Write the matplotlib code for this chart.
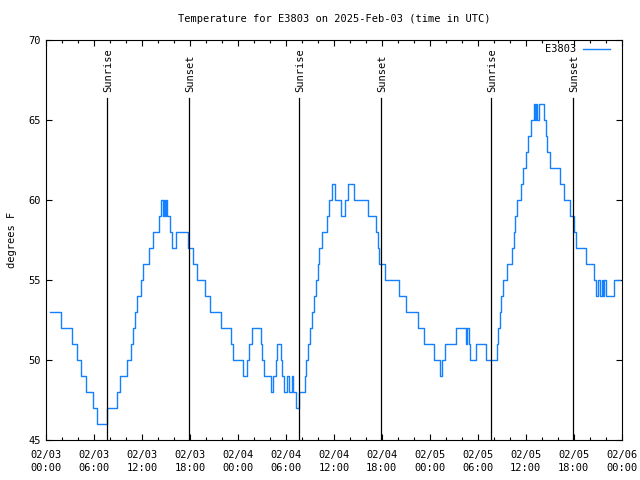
import matplotlib
matplotlib.use('Agg')
import matplotlib.pyplot as plt

# hours since 2025-02-03 00:00 UTC, temperature (F) starting at each hour
hours = [0.5, 1.88, 3.19, 3.88, 4.38, 5.0, 5.94, 6.38, 7.66, 8.88, 9.25, 10.13, 10.63,
         10.88, 11.13, 11.44, 11.88, 12.19, 12.88, 13.38, 14.13, 14.44, 14.59, 14.71,
         14.84, 14.96, 15.13, 15.46, 15.81, 16.21, 17.75, 18.44, 18.94, 19.94, 20.46,
         21.91, 23.13, 23.44, 24.66, 25.13, 25.38, 25.75, 26.84, 27.06, 27.25, 28.16,
         28.44, 28.75, 28.94, 29.41, 29.56, 29.75, 30.13, 30.44, 30.75, 30.94, 31.31,
         31.69, 32.34, 32.56, 32.81, 33.06, 33.31, 33.56, 33.75, 33.96, 34.19, 34.46,
         35.09, 35.38, 35.71, 36.13, 36.88, 37.38, 37.81, 38.46, 40.25, 41.31, 41.5,
         41.69, 42.4, 44.21, 45.06, 46.56, 47.31, 48.56, 49.31, 49.5, 49.88, 51.31,
         52.5, 52.63, 52.88, 53.06, 53.81, 55.06, 56.44, 56.56, 56.75, 56.88, 57.13,
         57.63, 58.25, 58.5, 58.69, 58.94, 59.38, 59.69, 60.0, 60.31, 60.69, 61.0,
         61.16, 61.31, 61.44, 61.66, 62.29, 62.5, 62.69, 63.0, 64.25, 64.75, 65.5,
         66.06, 66.31, 67.5, 68.59, 68.75, 69.06, 69.31, 69.5, 69.63, 69.75, 70.0,
         71.0, 71.75]
temps = [53, 52, 51, 50, 49, 48, 47, 46, 47, 48, 49, 50, 51,
         52, 53, 54, 55, 56, 57, 58, 59, 60, 59, 60,
         59, 60, 59, 58, 57, 58, 57, 56, 55, 54, 53,
         52, 51, 50, 49, 50, 51, 52, 51, 50, 49, 48,
         49, 50, 51, 50, 49, 48, 49, 48, 49, 48, 47,
         48, 49, 50, 51, 52, 53, 54, 55, 56, 57, 58,
         59, 60, 61, 60, 59, 60, 61, 60, 59, 58, 57,
         56, 55, 54, 53, 52, 51, 50, 49, 50, 51, 52,
         51, 52, 51, 50, 51, 50, 51, 52, 53, 54, 55,
         56, 57, 58, 59, 60, 61, 62, 63, 64, 65, 66,
         65, 66, 65, 66, 65, 64, 63, 62, 61, 60, 59,
         58, 57, 56, 55, 54, 55, 54, 55, 54, 55, 54,
         55, 55]

sun_hours = [7.67, 17.92, 31.68, 41.9, 55.65, 65.9]
sun_labels = ['Sunrise', 'Sunset', 'Sunrise', 'Sunset', 'Sunrise', 'Sunset']

tick_hours = list(range(0, 73, 6))
tick_labels = ['02/03\n00:00', '02/03\n06:00', '02/03\n12:00', '02/03\n18:00',
               '02/04\n00:00', '02/04\n06:00', '02/04\n12:00', '02/04\n18:00',
               '02/05\n00:00', '02/05\n06:00', '02/05\n12:00', '02/05\n18:00',
               '02/06\n00:00']

plt.rcParams['font.family'] = 'DejaVu Sans Mono'
plt.rcParams['font.size'] = 7.5

fig = plt.figure(figsize=(6.4, 4.8), dpi=100)
ax = fig.add_axes([46 / 640, 40 / 480, 575.7 / 640, 400 / 480])

ax.plot(hours, temps, drawstyle='steps-post', color='#1480ff', lw=1.0, label='E3803')

for h, lab in zip(sun_hours, sun_labels):
    ax.axvline(h, ymin=0, ymax=(66.4 - 45) / 25, color='black', lw=0.9)
    ax.text(h + 0.15, 66.75, lab, rotation=90, ha='center', va='bottom')

ax.set_xlim(0, 72)
ax.set_ylim(45, 70)
ax.set_xticks(tick_hours)
ax.set_xticklabels(tick_labels, linespacing=1.35)
ax.set_xticks(range(0, 73, 2), minor=True)
ax.set_yticks(range(45, 71, 5))
ax.tick_params(which='both', direction='in', top=True, right=True, width=0.8)
ax.tick_params(which='major', length=4.5)
ax.tick_params(which='minor', length=2)
ax.tick_params(axis='x', pad=7)
ax.tick_params(axis='y', pad=4)
for s in ax.spines.values():
    s.set_linewidth(0.8)

ax.set_ylabel('degrees F', labelpad=8)
ax.set_title('Temperature for E3803 on 2025-Feb-03 (time in UTC)', fontsize=7.5, pad=13)
ax.legend(loc='upper right', frameon=False, markerfirst=False, handlelength=2.6,
          borderaxespad=0.2, handletextpad=0.6, bbox_to_anchor=(0.99, 1.005))

fig.savefig('out.png', dpi=100)
